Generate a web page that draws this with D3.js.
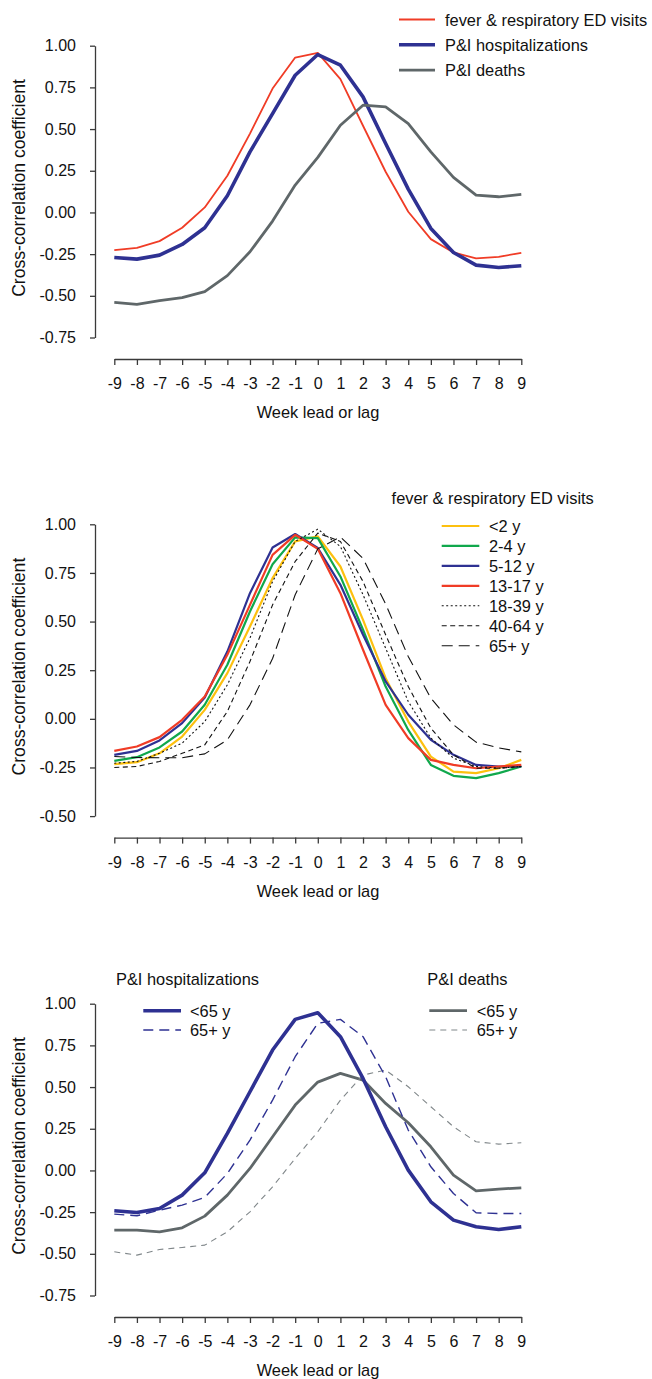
<!DOCTYPE html>
<meta charset="utf-8">
<script src="https://d3js.org/d3.v7.min.js"></script>
<style>
  body { margin: 0; background: #fff; }
  svg { font-family: "Liberation Sans", Arial, sans-serif; }
  .axis path, .axis line { stroke: #3a3a3a; stroke-width: 1.3; }
  .axis text { font-size: 16px; fill: #111; }
  .lbl { font-size: 16.4px; fill: #111; }
</style>
<div id="chart"></div>
<script>
// week offsets (x ticks)
var weeks = [-9, -8, -7, -6, -5, -4, -3, -2, -1, 0, 1, 2, 3, 4, 5, 6, 7, 8, 9];
var yTicksA = [1, 0.75, 0.5, 0.25, 0, -0.25, -0.5, -0.75];
var yTicksB = [1, 0.75, 0.5, 0.25, 0, -0.25, -0.5];

// panel 1
var edVisits = [-0.226, -0.212, -0.172, -0.092, 0.030, 0.22, 0.473, 0.743, 0.929, 0.957, 0.80, 0.52, 0.244, 0.004, -0.16, -0.24, -0.276, -0.266, -0.242];
var piHosp = [-0.27, -0.28, -0.256, -0.192, -0.092, 0.10, 0.363, 0.593, 0.823, 0.947, 0.883, 0.693, 0.413, 0.14, -0.096, -0.24, -0.316, -0.33, -0.32];
var piDeaths = [-0.539, -0.551, -0.529, -0.511, -0.475, -0.379, -0.236, -0.052, 0.164, 0.33, 0.523, 0.643, 0.633, 0.533, 0.363, 0.21, 0.104, 0.094, 0.108];

// panel 2 - ED visits by age
var edLt2 = [-0.233, -0.223, -0.177, -0.091, 0.046, 0.235, 0.475, 0.723, 0.912, 0.938, 0.783, 0.509, 0.209, -0.014, -0.194, -0.271, -0.279, -0.254, -0.211];
var ed2to4 = [-0.216, -0.197, -0.147, -0.065, 0.072, 0.278, 0.552, 0.795, 0.933, 0.929, 0.732, 0.458, 0.166, -0.057, -0.237, -0.293, -0.305, -0.279, -0.245];
var ed5to12 = [-0.185, -0.165, -0.111, -0.022, 0.11, 0.346, 0.646, 0.881, 0.95, 0.878, 0.689, 0.432, 0.192, 0.021, -0.108, -0.185, -0.237, -0.245, -0.245];
var ed13to17 = [-0.165, -0.142, -0.094, -0.005, 0.115, 0.329, 0.586, 0.843, 0.946, 0.874, 0.646, 0.355, 0.072, -0.099, -0.211, -0.237, -0.254, -0.245, -0.237];
var ed18to39 = [-0.228, -0.219, -0.177, -0.125, -0.014, 0.175, 0.415, 0.706, 0.912, 0.975, 0.886, 0.638, 0.363, 0.089, -0.099, -0.202, -0.245, -0.254, -0.245];
var ed40to64 = [-0.25, -0.245, -0.219, -0.177, -0.134, 0.038, 0.295, 0.586, 0.809, 0.955, 0.912, 0.706, 0.432, 0.166, -0.048, -0.185, -0.254, -0.254, -0.245];
var ed65plus = [-0.194, -0.199, -0.2, -0.2, -0.18, -0.108, 0.072, 0.31, 0.638, 0.874, 0.935, 0.825, 0.59, 0.32, 0.106, -0.031, -0.12, -0.149, -0.17];

// panel 3 - hospitalizations / deaths by age
var hospLt65 = [-0.242, -0.252, -0.228, -0.148, -0.014, 0.222, 0.472, 0.722, 0.906, 0.946, 0.802, 0.552, 0.262, 0.002, -0.188, -0.298, -0.338, -0.354, -0.338];
var hosp65plus = [-0.262, -0.272, -0.238, -0.208, -0.162, -0.018, 0.182, 0.422, 0.682, 0.882, 0.906, 0.802, 0.562, 0.242, 0.022, -0.138, -0.254, -0.258, -0.258];
var deathsLt65 = [-0.358, -0.358, -0.368, -0.344, -0.274, -0.148, 0.012, 0.202, 0.392, 0.53, 0.582, 0.542, 0.402, 0.286, 0.142, -0.028, -0.122, -0.112, -0.104];
var deaths65plus = [-0.488, -0.508, -0.474, -0.462, -0.448, -0.368, -0.248, -0.098, 0.072, 0.232, 0.422, 0.572, 0.602, 0.502, 0.382, 0.262, 0.172, 0.158, 0.166];

var RED = "#f03c26", BLUE = "#2e3192", GRAY = "#5f6769", LGRAY = "#80878a",
    YEL = "#fdc00f", GRN = "#10a84c";

var svg = d3.select("#chart").append("svg")
    .attr("width", 652).attr("height", 1379);

var x = d3.scaleLinear().domain([-9, 9]).range([114.3, 521.3]);
var fmt = function(d) { return d.toFixed(2); };

function panel(offset, ymin, ticks, series) {
  var g = svg.append("g").attr("transform", "translate(0," + offset + ")");
  var y = d3.scaleLinear().domain([ymin, 1]).range([337.5, 45.7]);

  g.append("g").attr("class", "axis")
      .attr("transform", "translate(95,0)")
      .call(d3.axisLeft(y).tickValues(ticks).tickFormat(fmt)
        .tickSize(5).tickSizeOuter(0).tickPadding(14));

  g.append("g").attr("class", "axis")
      .attr("transform", "translate(0,359)")
      .call(d3.axisBottom(x).tickValues(weeks).tickFormat(function(d) { return String(d); })
        .tickSize(6).tickSizeOuter(0).tickPadding(13));

  g.selectAll(".axis .domain").attr("fill", "none");

  g.append("text").attr("class", "lbl")
      .attr("x", 318).attr("y", 418).attr("text-anchor", "middle")
      .text("Week lead or lag");

  g.append("text")
      .attr("transform", "translate(24.5,188) rotate(-90)")
      .attr("text-anchor", "middle").style("font-size", "17.6px").style("fill", "#111")
      .text("Cross-correlation coefficient");

  var line = d3.line().x(function(d, i) { return x(weeks[i]); }).y(function(d) { return y(d); });

  series.forEach(function(s) {
    g.append("path").datum(s.values)
        .attr("fill", "none").attr("stroke", s.color).attr("stroke-width", s.width)
        .attr("stroke-dasharray", s.dash || null)
        .attr("stroke-linejoin", "round")
        .attr("d", line);
  });
  return g;
}

function legend(g, items, x0, x1, tx, y0, step) {
  items.forEach(function(s, i) {
    var yy = y0 + i * step;
    g.append("line").attr("x1", x0).attr("x2", x1).attr("y1", yy).attr("y2", yy)
        .attr("stroke", s.color).attr("stroke-width", s.width)
        .attr("stroke-dasharray", s.dash || null);
    g.append("text").attr("class", "lbl").attr("x", tx).attr("y", yy + 6).text(s.name);
  });
}

// ---- panel 1
var s1 = [
  { name: "fever & respiratory ED visits", values: edVisits, color: RED, width: 1.8 },
  { name: "P&I hospitalizations", values: piHosp, color: BLUE, width: 3.6 },
  { name: "P&I deaths", values: piDeaths, color: GRAY, width: 2.8 }
];
var g1 = panel(0, -0.75, yTicksA, s1);
legend(g1, s1, 399, 435, 445, 19.5, 25.3);

// ---- panel 2
var s2 = [
  { name: "<2 y", values: edLt2, color: YEL, width: 2.2 },
  { name: "2-4 y", values: ed2to4, color: GRN, width: 2.2 },
  { name: "5-12 y", values: ed5to12, color: BLUE, width: 2.2 },
  { name: "13-17 y", values: ed13to17, color: RED, width: 2.2 },
  { name: "18-39 y", values: ed18to39, color: "#111", width: 1.1, dash: "2,2.5" },
  { name: "40-64 y", values: ed40to64, color: "#111", width: 1.1, dash: "5,3.5" },
  { name: "65+ y", values: ed65plus, color: "#111", width: 1.1, dash: "11,6" }
];
var g2 = panel(478.6, -0.5, yTicksB, s2);
g2.append("text").attr("class", "lbl").attr("x", 492.7).attr("y", 25.4)
    .attr("text-anchor", "middle").text("fever & respiratory ED visits");
legend(g2, s2, 441.7, 479.3, 489, 47.4, 19.95);

// ---- panel 3
var sh = [
  { name: "<65 y", values: hospLt65, color: BLUE, width: 3.6 },
  { name: "65+ y", values: hosp65plus, color: BLUE, width: 1.4, dash: "10,6" }
];
var sd = [
  { name: "<65 y", values: deathsLt65, color: GRAY, width: 2.8 },
  { name: "65+ y", values: deaths65plus, color: LGRAY, width: 1.1, dash: "6,5" }
];
var g3 = panel(958, -0.75, yTicksA, sd.concat(sh));
g3.append("text").attr("class", "lbl").attr("x", 116).attr("y", 26.8).text("P&I hospitalizations");
g3.append("text").attr("class", "lbl").attr("x", 427.3).attr("y", 26.8).text("P&I deaths");
legend(g3, sh, 143.3, 181, 190, 52.7, 19.3);
legend(g3, sd, 429.3, 467, 476.7, 52.7, 19.3);
</script>
